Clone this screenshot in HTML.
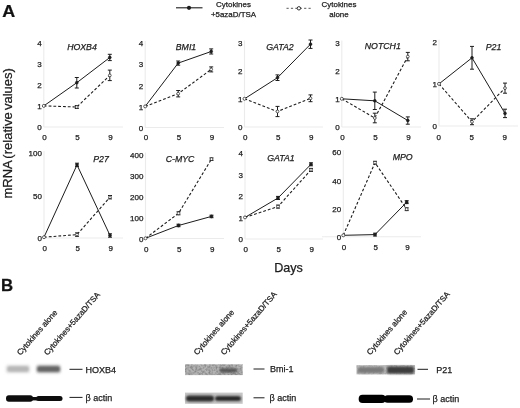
<!DOCTYPE html>
<html><head><meta charset="utf-8"><title>Figure</title>
<style>html,body{margin:0;padding:0;background:#fff;}svg{display:block;font-family:"Liberation Sans", Arial, sans-serif;}text{stroke:#1c1c1c;stroke-width:0.25px;}</style>
</head><body>
<svg width="520" height="408" viewBox="0 0 520 408">
<rect width="520" height="408" fill="#fff"/>
<line x1="43.8" y1="40.7" x2="43.8" y2="127" stroke="#ebebeb" stroke-width="1.1"/>
<line x1="43.8" y1="127" x2="123" y2="127" stroke="#ebebeb" stroke-width="1.1"/>
<text x="41.699999999999996" y="130.3" font-size="8" text-anchor="end" fill="#1c1c1c">0</text>
<text x="41.699999999999996" y="109.2" font-size="8" text-anchor="end" fill="#1c1c1c">1</text>
<text x="41.699999999999996" y="88.1" font-size="8" text-anchor="end" fill="#1c1c1c">2</text>
<text x="41.699999999999996" y="67.1" font-size="8" text-anchor="end" fill="#1c1c1c">3</text>
<text x="41.699999999999996" y="46.0" font-size="8" text-anchor="end" fill="#1c1c1c">4</text>
<text x="44.6" y="139.6" font-size="8" text-anchor="middle" fill="#1c1c1c">0</text>
<text x="77.6" y="139.6" font-size="8" text-anchor="middle" fill="#1c1c1c">5</text>
<text x="110.6" y="139.6" font-size="8" text-anchor="middle" fill="#1c1c1c">9</text>
<text x="82" y="49.5" font-size="8.75" font-style="italic" text-anchor="middle" fill="#1c1c1c">HOXB4</text>
<polyline points="43.8,105.9 76.8,107.0 109.8,75.4" fill="none" stroke="#1c1c1c" stroke-width="1.1" stroke-dasharray="2.8 2"/>
<polyline points="43.8,105.9 76.8,82.7 109.8,57.5" fill="none" stroke="#1c1c1c" stroke-width="1"/>
<path d="M76.8 105.5V108.5M74.8 105.5h4M74.8 108.5h4" stroke="#1c1c1c" stroke-width="1" fill="none"/>
<circle cx="76.8" cy="107.0" r="1.4" fill="#fff" stroke="#1c1c1c" stroke-width="0.7"/>
<path d="M109.8 70.1V80.6M107.8 70.1h4M107.8 80.6h4" stroke="#1c1c1c" stroke-width="1" fill="none"/>
<circle cx="109.8" cy="75.4" r="1.4" fill="#fff" stroke="#1c1c1c" stroke-width="0.7"/>
<circle cx="43.8" cy="105.9" r="1.5" fill="#fff" stroke="#1c1c1c" stroke-width="0.7"/>
<path d="M76.8 77.5V88.0M74.8 77.5h4M74.8 88.0h4" stroke="#1c1c1c" stroke-width="1" fill="none"/>
<circle cx="76.8" cy="82.7" r="1.4" fill="#1c1c1c" stroke="#1c1c1c" stroke-width="0.7"/>
<path d="M109.8 54.3V60.6M107.8 54.3h4M107.8 60.6h4" stroke="#1c1c1c" stroke-width="1" fill="none"/>
<circle cx="109.8" cy="57.5" r="1.4" fill="#1c1c1c" stroke="#1c1c1c" stroke-width="0.7"/>
<line x1="145.2" y1="41" x2="145.2" y2="127.5" stroke="#ebebeb" stroke-width="1.1"/>
<line x1="145" y1="127.5" x2="224" y2="127.5" stroke="#ebebeb" stroke-width="1.1"/>
<text x="143.1" y="130.8" font-size="8" text-anchor="end" fill="#1c1c1c">0</text>
<text x="143.1" y="109.7" font-size="8" text-anchor="end" fill="#1c1c1c">1</text>
<text x="143.1" y="88.5" font-size="8" text-anchor="end" fill="#1c1c1c">2</text>
<text x="143.1" y="67.4" font-size="8" text-anchor="end" fill="#1c1c1c">3</text>
<text x="143.1" y="46.3" font-size="8" text-anchor="end" fill="#1c1c1c">4</text>
<text x="146.0" y="140.1" font-size="8" text-anchor="middle" fill="#1c1c1c">0</text>
<text x="179.0" y="140.1" font-size="8" text-anchor="middle" fill="#1c1c1c">5</text>
<text x="212.0" y="140.1" font-size="8" text-anchor="middle" fill="#1c1c1c">9</text>
<text x="186" y="49.5" font-size="8.75" font-style="italic" text-anchor="middle" fill="#1c1c1c">BMI1</text>
<polyline points="145.2,106.4 178.2,93.7 211.2,69.4" fill="none" stroke="#1c1c1c" stroke-width="1.1" stroke-dasharray="2.8 2"/>
<polyline points="145.2,106.4 178.2,63.1 211.2,51.5" fill="none" stroke="#1c1c1c" stroke-width="1"/>
<path d="M178.2 90.5V96.9M176.2 90.5h4M176.2 96.9h4" stroke="#1c1c1c" stroke-width="1" fill="none"/>
<circle cx="178.2" cy="93.7" r="1.4" fill="#fff" stroke="#1c1c1c" stroke-width="0.7"/>
<path d="M211.2 66.9V71.9M209.2 66.9h4M209.2 71.9h4" stroke="#1c1c1c" stroke-width="1" fill="none"/>
<circle cx="211.2" cy="69.4" r="1.4" fill="#fff" stroke="#1c1c1c" stroke-width="0.7"/>
<circle cx="145.2" cy="106.4" r="1.5" fill="#fff" stroke="#1c1c1c" stroke-width="0.7"/>
<path d="M178.2 61.0V65.2M176.2 61.0h4M176.2 65.2h4" stroke="#1c1c1c" stroke-width="1" fill="none"/>
<circle cx="178.2" cy="63.1" r="1.4" fill="#1c1c1c" stroke="#1c1c1c" stroke-width="0.7"/>
<path d="M211.2 48.9V54.0M209.2 48.9h4M209.2 54.0h4" stroke="#1c1c1c" stroke-width="1" fill="none"/>
<circle cx="211.2" cy="51.5" r="1.4" fill="#1c1c1c" stroke="#1c1c1c" stroke-width="0.7"/>
<line x1="244.5" y1="40.5" x2="244.5" y2="127" stroke="#ebebeb" stroke-width="1.1"/>
<line x1="244.5" y1="127" x2="323" y2="127" stroke="#ebebeb" stroke-width="1.1"/>
<text x="242.4" y="130.3" font-size="8" text-anchor="end" fill="#1c1c1c">0</text>
<text x="242.4" y="102.1" font-size="8" text-anchor="end" fill="#1c1c1c">1</text>
<text x="242.4" y="74.0" font-size="8" text-anchor="end" fill="#1c1c1c">2</text>
<text x="242.4" y="45.8" font-size="8" text-anchor="end" fill="#1c1c1c">3</text>
<text x="245.3" y="139.6" font-size="8" text-anchor="middle" fill="#1c1c1c">0</text>
<text x="278.3" y="139.6" font-size="8" text-anchor="middle" fill="#1c1c1c">5</text>
<text x="311.3" y="139.6" font-size="8" text-anchor="middle" fill="#1c1c1c">9</text>
<text x="280" y="49.5" font-size="8.75" font-style="italic" text-anchor="middle" fill="#1c1c1c">GATA2</text>
<polyline points="244.5,98.8 277.5,111.5 310.5,98.3" fill="none" stroke="#1c1c1c" stroke-width="1.1" stroke-dasharray="2.8 2"/>
<polyline points="244.5,98.8 277.5,77.7 310.5,44.2" fill="none" stroke="#1c1c1c" stroke-width="1"/>
<path d="M277.5 106.4V116.6M275.5 106.4h4M275.5 116.6h4" stroke="#1c1c1c" stroke-width="1" fill="none"/>
<circle cx="277.5" cy="111.5" r="1.4" fill="#fff" stroke="#1c1c1c" stroke-width="0.7"/>
<path d="M310.5 94.9V101.7M308.5 94.9h4M308.5 101.7h4" stroke="#1c1c1c" stroke-width="1" fill="none"/>
<circle cx="310.5" cy="98.3" r="1.4" fill="#fff" stroke="#1c1c1c" stroke-width="0.7"/>
<circle cx="244.5" cy="98.8" r="1.5" fill="#fff" stroke="#1c1c1c" stroke-width="0.7"/>
<path d="M277.5 74.9V80.5M275.5 74.9h4M275.5 80.5h4" stroke="#1c1c1c" stroke-width="1" fill="none"/>
<circle cx="277.5" cy="77.7" r="1.4" fill="#1c1c1c" stroke="#1c1c1c" stroke-width="0.7"/>
<path d="M310.5 40.0V48.4M308.5 40.0h4M308.5 48.4h4" stroke="#1c1c1c" stroke-width="1" fill="none"/>
<circle cx="310.5" cy="44.2" r="1.4" fill="#1c1c1c" stroke="#1c1c1c" stroke-width="0.7"/>
<line x1="341.8" y1="40.5" x2="341.8" y2="127" stroke="#ebebeb" stroke-width="1.1"/>
<line x1="341.8" y1="127" x2="421" y2="127" stroke="#ebebeb" stroke-width="1.1"/>
<text x="339.7" y="130.3" font-size="8" text-anchor="end" fill="#1c1c1c">0</text>
<text x="339.7" y="102.1" font-size="8" text-anchor="end" fill="#1c1c1c">1</text>
<text x="339.7" y="74.0" font-size="8" text-anchor="end" fill="#1c1c1c">2</text>
<text x="339.7" y="45.8" font-size="8" text-anchor="end" fill="#1c1c1c">3</text>
<text x="342.6" y="139.6" font-size="8" text-anchor="middle" fill="#1c1c1c">0</text>
<text x="375.6" y="139.6" font-size="8" text-anchor="middle" fill="#1c1c1c">5</text>
<text x="408.6" y="139.6" font-size="8" text-anchor="middle" fill="#1c1c1c">9</text>
<text x="382.8" y="48.9" font-size="8.75" font-style="italic" text-anchor="middle" fill="#1c1c1c">NOTCH1</text>
<polyline points="341.8,98.8 374.8,118.0 407.8,56.6" fill="none" stroke="#1c1c1c" stroke-width="1.1" stroke-dasharray="2.8 2"/>
<polyline points="341.8,98.8 374.8,100.8 407.8,120.5" fill="none" stroke="#1c1c1c" stroke-width="1"/>
<path d="M374.8 113.2V122.8M372.8 113.2h4M372.8 122.8h4" stroke="#1c1c1c" stroke-width="1" fill="none"/>
<circle cx="374.8" cy="118.0" r="1.4" fill="#fff" stroke="#1c1c1c" stroke-width="0.7"/>
<path d="M407.8 52.4V60.8M405.8 52.4h4M405.8 60.8h4" stroke="#1c1c1c" stroke-width="1" fill="none"/>
<circle cx="407.8" cy="56.6" r="1.4" fill="#fff" stroke="#1c1c1c" stroke-width="0.7"/>
<circle cx="341.8" cy="98.8" r="1.5" fill="#fff" stroke="#1c1c1c" stroke-width="0.7"/>
<path d="M374.8 92.1V109.5M372.8 92.1h4M372.8 109.5h4" stroke="#1c1c1c" stroke-width="1" fill="none"/>
<circle cx="374.8" cy="100.8" r="1.4" fill="#1c1c1c" stroke="#1c1c1c" stroke-width="0.7"/>
<path d="M407.8 116.9V124.2M405.8 116.9h4M405.8 124.2h4" stroke="#1c1c1c" stroke-width="1" fill="none"/>
<circle cx="407.8" cy="120.5" r="1.4" fill="#1c1c1c" stroke="#1c1c1c" stroke-width="0.7"/>
<line x1="439" y1="39.8" x2="439" y2="126" stroke="#ebebeb" stroke-width="1.1"/>
<line x1="439" y1="126" x2="518" y2="126" stroke="#ebebeb" stroke-width="1.1"/>
<text x="436.9" y="128.7" font-size="8" text-anchor="end" fill="#1c1c1c">0</text>
<text x="436.9" y="86.6" font-size="8" text-anchor="end" fill="#1c1c1c">1</text>
<text x="436.9" y="44.5" font-size="8" text-anchor="end" fill="#1c1c1c">2</text>
<text x="438.8" y="139.5" font-size="8" text-anchor="middle" fill="#1c1c1c">0</text>
<text x="471.8" y="139.5" font-size="8" text-anchor="middle" fill="#1c1c1c">5</text>
<text x="504.8" y="139.5" font-size="8" text-anchor="middle" fill="#1c1c1c">9</text>
<text x="493.5" y="49.5" font-size="8.75" font-style="italic" text-anchor="middle" fill="#1c1c1c">P21</text>
<polyline points="439.0,83.9 472.0,121.8 505.0,88.1" fill="none" stroke="#1c1c1c" stroke-width="1.1" stroke-dasharray="2.8 2"/>
<polyline points="439.0,83.9 472.0,57.8 505.0,113.4" fill="none" stroke="#1c1c1c" stroke-width="1"/>
<path d="M472.0 118.8V124.7M470.0 118.8h4M470.0 124.7h4" stroke="#1c1c1c" stroke-width="1" fill="none"/>
<circle cx="472.0" cy="121.8" r="1.4" fill="#fff" stroke="#1c1c1c" stroke-width="0.7"/>
<path d="M505.0 83.1V93.2M503.0 83.1h4M503.0 93.2h4" stroke="#1c1c1c" stroke-width="1" fill="none"/>
<circle cx="505.0" cy="88.1" r="1.4" fill="#fff" stroke="#1c1c1c" stroke-width="0.7"/>
<circle cx="439.0" cy="83.9" r="1.5" fill="#fff" stroke="#1c1c1c" stroke-width="0.7"/>
<path d="M472.0 46.4V69.2M470.0 46.4h4M470.0 69.2h4" stroke="#1c1c1c" stroke-width="1" fill="none"/>
<circle cx="472.0" cy="57.8" r="1.4" fill="#1c1c1c" stroke="#1c1c1c" stroke-width="0.7"/>
<path d="M505.0 109.2V117.6M503.0 109.2h4M503.0 117.6h4" stroke="#1c1c1c" stroke-width="1" fill="none"/>
<circle cx="505.0" cy="113.4" r="1.4" fill="#1c1c1c" stroke="#1c1c1c" stroke-width="0.7"/>
<line x1="44" y1="151" x2="44" y2="238" stroke="#ebebeb" stroke-width="1.1"/>
<line x1="44" y1="238" x2="123" y2="238" stroke="#ebebeb" stroke-width="1.1"/>
<text x="41.9" y="241.3" font-size="8" text-anchor="end" fill="#1c1c1c">0</text>
<text x="41.9" y="198.8" font-size="8" text-anchor="end" fill="#1c1c1c">50</text>
<text x="41.9" y="156.3" font-size="8" text-anchor="end" fill="#1c1c1c">100</text>
<text x="44.8" y="251.1" font-size="8" text-anchor="middle" fill="#1c1c1c">0</text>
<text x="77.8" y="251.1" font-size="8" text-anchor="middle" fill="#1c1c1c">5</text>
<text x="110.8" y="251.1" font-size="8" text-anchor="middle" fill="#1c1c1c">9</text>
<text x="101" y="161.7" font-size="8.75" font-style="italic" text-anchor="middle" fill="#1c1c1c">P27</text>
<polyline points="44.0,237.2 77.0,234.6 110.0,197.2" fill="none" stroke="#1c1c1c" stroke-width="1.1" stroke-dasharray="2.8 2"/>
<polyline points="44.0,237.2 77.0,164.9 110.0,235.4" fill="none" stroke="#1c1c1c" stroke-width="1"/>
<path d="M77.0 232.9V236.3M75.0 232.9h4M75.0 236.3h4" stroke="#1c1c1c" stroke-width="1" fill="none"/>
<circle cx="77.0" cy="234.6" r="1.4" fill="#fff" stroke="#1c1c1c" stroke-width="0.7"/>
<path d="M110.0 195.5V198.9M108.0 195.5h4M108.0 198.9h4" stroke="#1c1c1c" stroke-width="1" fill="none"/>
<circle cx="110.0" cy="197.2" r="1.4" fill="#fff" stroke="#1c1c1c" stroke-width="0.7"/>
<circle cx="44.0" cy="237.2" r="1.5" fill="#fff" stroke="#1c1c1c" stroke-width="0.7"/>
<path d="M77.0 163.2V166.6M75.0 163.2h4M75.0 166.6h4" stroke="#1c1c1c" stroke-width="1" fill="none"/>
<circle cx="77.0" cy="164.9" r="1.4" fill="#1c1c1c" stroke="#1c1c1c" stroke-width="0.7"/>
<path d="M110.0 233.8V237.2M108.0 233.8h4M108.0 237.2h4" stroke="#1c1c1c" stroke-width="1" fill="none"/>
<circle cx="110.0" cy="235.4" r="1.4" fill="#1c1c1c" stroke="#1c1c1c" stroke-width="0.7"/>
<line x1="145.5" y1="152.5" x2="145.5" y2="238.5" stroke="#ebebeb" stroke-width="1.1"/>
<line x1="145.5" y1="238.5" x2="224" y2="238.5" stroke="#ebebeb" stroke-width="1.1"/>
<text x="143.4" y="241.8" font-size="8" text-anchor="end" fill="#1c1c1c">0</text>
<text x="143.4" y="220.8" font-size="8" text-anchor="end" fill="#1c1c1c">100</text>
<text x="143.4" y="199.8" font-size="8" text-anchor="end" fill="#1c1c1c">200</text>
<text x="143.4" y="178.8" font-size="8" text-anchor="end" fill="#1c1c1c">300</text>
<text x="143.4" y="157.8" font-size="8" text-anchor="end" fill="#1c1c1c">400</text>
<text x="146.3" y="251.6" font-size="8" text-anchor="middle" fill="#1c1c1c">0</text>
<text x="179.3" y="251.6" font-size="8" text-anchor="middle" fill="#1c1c1c">5</text>
<text x="212.3" y="251.6" font-size="8" text-anchor="middle" fill="#1c1c1c">9</text>
<text x="180" y="162" font-size="8.75" font-style="italic" text-anchor="middle" fill="#1c1c1c">C-MYC</text>
<polyline points="145.5,238.3 178.5,213.3 211.5,159.1" fill="none" stroke="#1c1c1c" stroke-width="1.1" stroke-dasharray="2.8 2"/>
<polyline points="145.5,238.3 178.5,225.5 211.5,216.4" fill="none" stroke="#1c1c1c" stroke-width="1"/>
<path d="M178.5 211.8V214.8M176.5 211.8h4M176.5 214.8h4" stroke="#1c1c1c" stroke-width="1" fill="none"/>
<circle cx="178.5" cy="213.3" r="1.4" fill="#fff" stroke="#1c1c1c" stroke-width="0.7"/>
<path d="M211.5 157.9V160.4M209.5 157.9h4M209.5 160.4h4" stroke="#1c1c1c" stroke-width="1" fill="none"/>
<circle cx="211.5" cy="159.1" r="1.4" fill="#fff" stroke="#1c1c1c" stroke-width="0.7"/>
<circle cx="145.5" cy="238.3" r="1.5" fill="#fff" stroke="#1c1c1c" stroke-width="0.7"/>
<path d="M178.5 224.2V226.7M176.5 224.2h4M176.5 226.7h4" stroke="#1c1c1c" stroke-width="1" fill="none"/>
<circle cx="178.5" cy="225.5" r="1.4" fill="#1c1c1c" stroke="#1c1c1c" stroke-width="0.7"/>
<path d="M211.5 215.2V217.7M209.5 215.2h4M209.5 217.7h4" stroke="#1c1c1c" stroke-width="1" fill="none"/>
<circle cx="211.5" cy="216.4" r="1.4" fill="#1c1c1c" stroke="#1c1c1c" stroke-width="0.7"/>
<line x1="245" y1="150.6" x2="245" y2="239" stroke="#ebebeb" stroke-width="1.1"/>
<line x1="245" y1="239" x2="323" y2="239" stroke="#ebebeb" stroke-width="1.1"/>
<text x="242.9" y="242.3" font-size="8" text-anchor="end" fill="#1c1c1c">0</text>
<text x="242.9" y="220.7" font-size="8" text-anchor="end" fill="#1c1c1c">1</text>
<text x="242.9" y="199.1" font-size="8" text-anchor="end" fill="#1c1c1c">2</text>
<text x="242.9" y="177.5" font-size="8" text-anchor="end" fill="#1c1c1c">3</text>
<text x="242.9" y="155.9" font-size="8" text-anchor="end" fill="#1c1c1c">4</text>
<text x="245.8" y="252.1" font-size="8" text-anchor="middle" fill="#1c1c1c">0</text>
<text x="278.8" y="252.1" font-size="8" text-anchor="middle" fill="#1c1c1c">5</text>
<text x="311.8" y="252.1" font-size="8" text-anchor="middle" fill="#1c1c1c">9</text>
<text x="281" y="161" font-size="8.75" font-style="italic" text-anchor="middle" fill="#1c1c1c">GATA1</text>
<polyline points="245.0,217.4 278.0,206.6 311.0,169.9" fill="none" stroke="#1c1c1c" stroke-width="1.1" stroke-dasharray="2.8 2"/>
<polyline points="245.0,217.4 278.0,198.0 311.0,164.3" fill="none" stroke="#1c1c1c" stroke-width="1"/>
<path d="M278.0 205.1V208.1M276.0 205.1h4M276.0 208.1h4" stroke="#1c1c1c" stroke-width="1" fill="none"/>
<circle cx="278.0" cy="206.6" r="1.4" fill="#fff" stroke="#1c1c1c" stroke-width="0.7"/>
<path d="M311.0 168.4V171.4M309.0 168.4h4M309.0 171.4h4" stroke="#1c1c1c" stroke-width="1" fill="none"/>
<circle cx="311.0" cy="169.9" r="1.4" fill="#fff" stroke="#1c1c1c" stroke-width="0.7"/>
<circle cx="245.0" cy="217.4" r="1.5" fill="#fff" stroke="#1c1c1c" stroke-width="0.7"/>
<path d="M278.0 196.4V199.5M276.0 196.4h4M276.0 199.5h4" stroke="#1c1c1c" stroke-width="1" fill="none"/>
<circle cx="278.0" cy="198.0" r="1.4" fill="#1c1c1c" stroke="#1c1c1c" stroke-width="0.7"/>
<path d="M311.0 162.8V165.8M309.0 162.8h4M309.0 165.8h4" stroke="#1c1c1c" stroke-width="1" fill="none"/>
<circle cx="311.0" cy="164.3" r="1.4" fill="#1c1c1c" stroke="#1c1c1c" stroke-width="0.7"/>
<line x1="343.3" y1="150.1" x2="343.3" y2="236.7" stroke="#ebebeb" stroke-width="1.1"/>
<line x1="322" y1="236.7" x2="421" y2="236.7" stroke="#ebebeb" stroke-width="1.1"/>
<text x="341.2" y="240.0" font-size="8" text-anchor="end" fill="#1c1c1c">0</text>
<text x="341.2" y="211.8" font-size="8" text-anchor="end" fill="#1c1c1c">20</text>
<text x="341.2" y="183.6" font-size="8" text-anchor="end" fill="#1c1c1c">40</text>
<text x="341.2" y="155.4" font-size="8" text-anchor="end" fill="#1c1c1c">60</text>
<text x="344.1" y="249.8" font-size="8" text-anchor="middle" fill="#1c1c1c">0</text>
<text x="375.8" y="249.8" font-size="8" text-anchor="middle" fill="#1c1c1c">5</text>
<text x="407.5" y="249.8" font-size="8" text-anchor="middle" fill="#1c1c1c">9</text>
<text x="402.7" y="160.3" font-size="8.75" font-style="italic" text-anchor="middle" fill="#1c1c1c">MPO</text>
<polyline points="343.3,235.3 375.0,162.7 406.7,209.2" fill="none" stroke="#1c1c1c" stroke-width="1.1" stroke-dasharray="2.8 2"/>
<polyline points="343.3,235.3 375.0,234.6 406.7,202.2" fill="none" stroke="#1c1c1c" stroke-width="1"/>
<path d="M375.0 161.3V164.1M373.0 161.3h4M373.0 164.1h4" stroke="#1c1c1c" stroke-width="1" fill="none"/>
<circle cx="375.0" cy="162.7" r="1.4" fill="#fff" stroke="#1c1c1c" stroke-width="0.7"/>
<path d="M406.7 207.8V210.6M404.7 207.8h4M404.7 210.6h4" stroke="#1c1c1c" stroke-width="1" fill="none"/>
<circle cx="406.7" cy="209.2" r="1.4" fill="#fff" stroke="#1c1c1c" stroke-width="0.7"/>
<circle cx="343.3" cy="235.3" r="1.5" fill="#fff" stroke="#1c1c1c" stroke-width="0.7"/>
<path d="M375.0 233.2V236.0M373.0 233.2h4M373.0 236.0h4" stroke="#1c1c1c" stroke-width="1" fill="none"/>
<circle cx="375.0" cy="234.6" r="1.4" fill="#1c1c1c" stroke="#1c1c1c" stroke-width="0.7"/>
<path d="M406.7 200.7V203.6M404.7 200.7h4M404.7 203.6h4" stroke="#1c1c1c" stroke-width="1" fill="none"/>
<circle cx="406.7" cy="202.2" r="1.4" fill="#1c1c1c" stroke="#1c1c1c" stroke-width="0.7"/>
<line x1="176" y1="7.8" x2="202.5" y2="7.8" stroke="#1c1c1c" stroke-width="1.1"/>
<circle cx="189" cy="7.8" r="2.1" fill="#1c1c1c"/>
<text x="233.5" y="6.6" font-size="7.95" text-anchor="middle" fill="#1c1c1c">Cytokines</text>
<text x="233.5" y="16.5" font-size="7.95" text-anchor="middle" fill="#1c1c1c">+5azaD/TSA</text>
<line x1="286.5" y1="8.3" x2="311.5" y2="8.3" stroke="#444" stroke-width="0.9" stroke-dasharray="2.2 2.2"/>
<circle cx="298.9" cy="8.3" r="1.7" fill="#fff" stroke="#1c1c1c" stroke-width="0.9"/>
<text x="339" y="6.6" font-size="7.95" text-anchor="middle" fill="#1c1c1c">Cytokines</text>
<text x="339" y="16.5" font-size="7.95" text-anchor="middle" fill="#1c1c1c">alone</text>
<text transform="translate(2.2,17) scale(1.12,1)" font-size="16" font-weight="bold" fill="#111">A</text>
<text transform="translate(1,291) scale(1.05,1)" font-size="16" font-weight="bold" fill="#111">B</text>
<text transform="translate(12,198.5) rotate(-90)" font-size="13" word-spacing="-1.3" fill="#1c1c1c">mRNA (relative values)</text>
<text x="274.2" y="271.6" font-size="12.6" fill="#1c1c1c">Days</text>
<text transform="translate(20.5,355.8) rotate(-49)" font-size="8" fill="#1c1c1c">Cytokines alone</text>
<text transform="translate(47.5,355.8) rotate(-49)" font-size="8" fill="#1c1c1c">Cytokines+5azaD/TSA</text>
<text transform="translate(197.3,355.5) rotate(-49)" font-size="8" fill="#1c1c1c">Cytokines alone</text>
<text transform="translate(224.3,355.5) rotate(-49)" font-size="8" fill="#1c1c1c">Cytokines+5azaD/TSA</text>
<text transform="translate(370.3,355.4) rotate(-49)" font-size="8" fill="#1c1c1c">Cytokines alone</text>
<text transform="translate(397.2,355.4) rotate(-49)" font-size="8" fill="#1c1c1c">Cytokines+5azaD/TSA</text>
<defs><filter id="b1" x="-20%" y="-100%" width="140%" height="300%"><feGaussianBlur stdDeviation="1.2"/></filter><filter id="nz" x="0" y="0" width="100%" height="100%"><feTurbulence type="fractalNoise" baseFrequency="0.45" numOctaves="2" seed="4" result="t"/><feColorMatrix in="t" type="matrix" values="0 0 0 0 0  0 0 0 0 0  0 0 0 0 0  1.6 0 0 0 -0.55"/><feComposite operator="in" in2="SourceGraphic"/></filter><filter id="b2" x="-20%" y="-100%" width="140%" height="300%"><feGaussianBlur stdDeviation="0.7"/></filter></defs>
<rect x="5" y="364" width="26" height="10" rx="4" fill="#f0f0f0" filter="url(#b1)"/>
<rect x="7" y="366" width="22" height="6" rx="2.5" fill="#b8b8b8" filter="url(#b1)"/>
<rect x="35.5" y="364" width="26" height="10" rx="4" fill="#dcdcdc" filter="url(#b1)"/>
<rect x="37" y="366" width="23" height="6" rx="2.5" fill="#666" filter="url(#b1)"/>
<rect x="6" y="395.2" width="27" height="6.6" rx="3" fill="#0a0a0a" filter="url(#b2)"/>
<rect x="30" y="397" width="8" height="3.4" fill="#0a0a0a" filter="url(#b2)"/>
<rect x="36" y="396" width="26.5" height="5" rx="2.5" fill="#0a0a0a" filter="url(#b2)"/>
<line x1="69.5" y1="369.3" x2="82.5" y2="369.3" stroke="#1c1c1c" stroke-width="1"/>
<text x="85.5" y="372.5" font-size="9" fill="#1c1c1c">HOXB4</text>
<line x1="69.5" y1="397.4" x2="82.5" y2="397.4" stroke="#1c1c1c" stroke-width="1"/>
<text x="85.5" y="400.59999999999997" font-size="9" fill="#1c1c1c">β actin</text>
<line x1="253.5" y1="369" x2="264.5" y2="369" stroke="#1c1c1c" stroke-width="1"/>
<text x="270" y="372.2" font-size="9" fill="#1c1c1c">Bmi-1</text>
<line x1="253.5" y1="397.8" x2="264.5" y2="397.8" stroke="#1c1c1c" stroke-width="1"/>
<text x="269.5" y="401.0" font-size="9" fill="#1c1c1c">β actin</text>
<line x1="417.5" y1="369.3" x2="428" y2="369.3" stroke="#1c1c1c" stroke-width="1"/>
<text x="436.3" y="372.5" font-size="9" fill="#1c1c1c">P21</text>
<line x1="417" y1="399" x2="430" y2="399" stroke="#1c1c1c" stroke-width="1"/>
<text x="432.5" y="402.2" font-size="9" fill="#1c1c1c">β actin</text>
<rect x="185" y="364.3" width="57.7" height="10.8" fill="#b4b4b4"/>
<rect x="185" y="364.3" width="57.7" height="10.8" fill="#000" opacity="0.35" filter="url(#nz)"/>
<rect x="219.5" y="368.3" width="17.5" height="4.2" rx="2" fill="#555" filter="url(#b1)"/>
<rect x="185" y="392.6" width="57.7" height="11.2" fill="#c6c6c6"/>
<rect x="186" y="395.5" width="28" height="6" rx="3" fill="#2a2a2a" filter="url(#b1)"/>
<rect x="215" y="396" width="26" height="5" rx="2.5" fill="#2a2a2a" filter="url(#b1)"/>
<rect x="356.5" y="365.2" width="58.5" height="9.2" fill="#c0c0c0"/>
<rect x="356.5" y="365.2" width="58.5" height="9.2" fill="#000" opacity="0.25" filter="url(#nz)"/>
<rect x="358" y="367" width="26" height="6" rx="2" fill="#7a7a7a" filter="url(#b1)"/>
<rect x="387" y="366.6" width="27" height="6.8" rx="2" fill="#3c3c3c" filter="url(#b1)"/>
<rect x="358.7" y="394.8" width="27" height="8.2" rx="3.8" fill="#050505" filter="url(#b2)"/>
<rect x="384" y="395.2" width="29" height="7.6" rx="3.6" fill="#050505" filter="url(#b2)"/>
</svg>
</body></html>
